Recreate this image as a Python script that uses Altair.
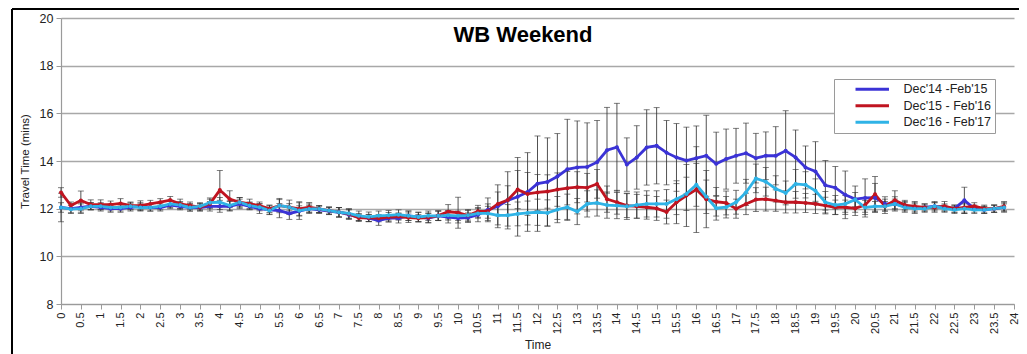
import altair as alt
import pandas as pd

# ---------------- data ----------------
times = [i * 0.25 for i in range(96)]  # 15-minute time slots, 0 .. 23.75 h

series_names = ["Dec'14 -Feb'15", "Dec'15 - Feb'16", "Dec'16 - Feb'17"]
series_colors = ["#3b33d6", "#c01420", "#2fb3e6"]

blue = [12.05, 12.0, 12.05, 12.1, 12.05, 12.0, 12.0, 12.05, 12.1, 12.05, 12.05, 12.15,
        12.1, 12.05, 12.05, 12.1, 12.1, 12.1, 12.2, 12.1, 12.0, 11.95, 11.92, 11.8,
        11.9, 12.0, 11.95, 11.9, 11.85, 11.75, 11.65, 11.6, 11.5, 11.6, 11.6, 11.7,
        11.65, 11.6, 11.7, 11.65, 11.6, 11.62, 11.75, 11.95, 12.1, 12.35, 12.5, 12.7,
        13.05, 13.12, 13.35, 13.65, 13.73, 13.75, 13.95, 14.45, 14.58, 13.85, 14.15, 14.57,
        14.64, 14.35, 14.15, 14.02, 14.12, 14.22, 13.88, 14.08, 14.22, 14.33, 14.12, 14.22,
        14.22, 14.43, 14.15, 13.73, 13.56, 12.98, 12.88, 12.58, 12.4, 12.45, 12.46, 12.2,
        12.2, 12.1, 12.05, 12.05, 12.1, 12.05, 12.0, 12.35, 12.0, 11.95, 12.0, 12.05]

red = [12.68, 12.13, 12.34, 12.17, 12.17, 12.17, 12.22, 12.13, 12.13, 12.2, 12.27, 12.36,
       12.2, 12.13, 12.06, 12.2, 12.78, 12.4, 12.27, 12.2, 12.13, 11.99, 12.13, 12.06,
       11.99, 12.06, 11.99, 11.92, 11.85, 11.78, 11.61, 11.61, 11.6, 11.64, 11.67, 11.62,
       11.6, 11.62, 11.71, 11.87, 11.83, 11.71, 11.89, 11.9, 12.2, 12.36, 12.8, 12.62,
       12.68, 12.72, 12.8, 12.86, 12.9, 12.88, 13.04, 12.4, 12.27, 12.13, 12.1, 12.06,
       12.01, 11.86, 12.27, 12.55, 12.8, 12.4, 12.29, 12.24, 12.0, 12.2, 12.38, 12.4,
       12.34, 12.27, 12.27, 12.24, 12.2, 12.13, 12.06, 12.06, 12.01, 12.15, 12.6, 12.1,
       12.35, 12.15, 12.1, 12.05, 12.05, 12.1, 12.0, 12.05, 12.1, 12.0, 12.0, 12.1]

cyan = [12.05, 11.98, 12.0, 12.1, 12.1, 12.05, 12.05, 12.1, 12.05, 12.05, 12.1, 12.2,
        12.15, 12.05, 12.1, 12.25, 12.27, 12.13, 12.27, 12.13, 12.06, 11.92, 12.13, 12.06,
        11.92, 11.99, 11.99, 11.92, 11.85, 11.8, 11.7, 11.66, 11.7, 11.72, 11.75, 11.7,
        11.65, 11.7, 11.7, 11.72, 11.7, 11.72, 11.8, 11.8, 11.72, 11.72, 11.78, 11.82,
        11.85, 11.82, 11.96, 12.06, 11.88, 12.2, 12.24, 12.15, 12.13, 12.1, 12.15, 12.2,
        12.2, 12.2, 12.4, 12.62, 13.0, 12.5, 12.02, 12.06, 12.27, 12.68, 13.27, 13.13,
        12.83, 12.66, 13.04, 13.0, 12.75, 12.27, 12.15, 12.2, 12.38, 12.05, 12.1, 12.1,
        12.2, 12.05, 12.0, 12.0, 12.1, 12.0, 11.95, 12.0, 11.95, 11.95, 12.0, 12.05]

blue_sd = [0.6, 0.2, 0.2, 0.15, 0.15, 0.15, 0.15, 0.15, 0.15, 0.15, 0.15, 0.15,
           0.15, 0.15, 0.15, 0.2, 0.25, 0.2, 0.2, 0.15, 0.2, 0.2, 0.3, 0.25,
           0.35, 0.2, 0.15, 0.15, 0.2, 0.2, 0.15, 0.15, 0.2, 0.15, 0.2, 0.2,
           0.2, 0.2, 0.2, 0.25, 0.2, 0.2, 0.3, 0.5, 0.9, 1.2, 1.65, 1.65,
           2.0, 1.85, 1.8, 2.1, 1.95, 1.85, 1.75, 1.8, 1.84, 1.12, 1.33, 1.58,
           1.6, 1.35, 1.42, 1.4, 1.35, 1.7, 1.33, 1.26, 1.15, 1.26, 1.04, 1.0,
           1.22, 1.68, 1.15, 0.9, 1.25, 1.04, 0.89, 1.0, 0.55, 0.8, 0.6, 0.3,
           0.3, 0.2, 0.2, 0.15, 0.15, 0.15, 0.15, 0.55, 0.15, 0.15, 0.15, 0.15]

red_sd = [0.2, 0.15, 0.4, 0.2, 0.2, 0.15, 0.2, 0.15, 0.2, 0.15, 0.15, 0.15,
          0.2, 0.15, 0.15, 0.2, 0.82, 0.35, 0.2, 0.2, 0.15, 0.15, 0.25, 0.3,
          0.3, 0.2, 0.15, 0.15, 0.2, 0.2, 0.15, 0.15, 0.15, 0.2, 0.15, 0.2,
          0.15, 0.2, 0.2, 0.3, 0.65, 0.25, 0.25, 0.3, 0.5, 0.6, 0.8, 0.9,
          0.75, 0.7, 0.7, 0.7, 0.65, 0.6, 0.6, 0.55, 0.5, 0.5, 0.5, 0.5,
          0.5, 0.5, 0.9, 1.3, 1.8, 1.2, 0.6, 0.5, 0.4, 0.45, 0.5, 0.5,
          0.45, 0.45, 0.45, 0.4, 0.4, 0.35, 0.3, 0.3, 0.3, 0.3, 0.75, 0.3,
          0.4, 0.2, 0.2, 0.15, 0.2, 0.2, 0.15, 0.2, 0.15, 0.15, 0.15, 0.2]

cyan_sd = [0.2, 0.15, 0.2, 0.15, 0.15, 0.15, 0.15, 0.15, 0.15, 0.15, 0.15, 0.15,
           0.15, 0.15, 0.15, 0.2, 0.2, 0.2, 0.2, 0.15, 0.15, 0.15, 0.3, 0.15,
           0.2, 0.15, 0.15, 0.15, 0.2, 0.2, 0.2, 0.2, 0.2, 0.2, 0.2, 0.2,
           0.2, 0.2, 0.2, 0.2, 0.2, 0.2, 0.2, 0.3, 0.4, 0.45, 0.5, 0.5,
           0.55, 0.55, 0.55, 0.55, 0.55, 0.55, 0.55, 0.55, 0.55, 0.55, 0.55, 0.55,
           0.55, 0.6, 0.65, 0.7, 0.9, 0.7, 0.5, 0.45, 0.5, 0.55, 0.6, 0.6,
           0.55, 0.5, 0.6, 0.55, 0.5, 0.45, 0.4, 0.35, 0.3, 0.3, 0.2, 0.2,
           0.2, 0.2, 0.2, 0.15, 0.2, 0.15, 0.15, 0.2, 0.15, 0.15, 0.15, 0.2]

x_tick_values = [0, 0.5, 1, 1.5, 2, 2.5, 3, 3.5, 4, 4.5, 5, 5.5, 6, 6.5, 7, 7.5, 8, 8.5,
                 9, 9.5, 10, 10.5, 11, 11.5, 12, 12.5, 13, 13.5, 14, 14.5, 15, 15.5,
                 16, 16.5, 17, 17.5, 18, 18.5, 19, 19.5, 20, 20.5, 21, 21.5, 22, 22.5,
                 23, 23.5, 24]
y_tick_values = [8, 10, 12, 14, 16, 18, 20]

title_text = "WB Weekend"
x_title = "Time"
y_title = "Travel Time (mins)"

# ---------------- table ----------------
rows = []
for name, vals, sds in zip(series_names, [blue, red, cyan], [blue_sd, red_sd, cyan_sd]):
    for t, v, s in zip(times, vals, sds):
        rows.append({"t": t, "series": name, "value": v,
                     "lo": round(v - s, 3), "hi": round(v + s, 3)})
df = pd.DataFrame(rows)

FONT = "Liberation Sans"

x_scale = alt.Scale(domain=[0, 24], nice=False, zero=False)
y_scale = alt.Scale(domain=[8, 20], nice=False, zero=False)

x_axis = alt.Axis(values=x_tick_values, format="~g", labelAngle=270, grid=False,
                  tickSize=5, labelPadding=3, labelFontSize=11, titleFontSize=12,
                  titleFontWeight="normal", titlePadding=6, labelOverlap=False,
                  labelFlush=False)
y_axis = alt.Axis(values=y_tick_values, grid=True, tickSize=5, labelPadding=3,
                  labelFontSize=12.5, titleFontSize=11.5, titlePadding=9,
                  titleFontWeight="normal", labelOverlap=False)

X = alt.X("t:Q", scale=x_scale, axis=x_axis, title=x_title)

base = alt.Chart(df)

err_rules = base.mark_rule(color="#333333", strokeWidth=0.85).encode(
    x=X,
    y=alt.Y("lo:Q", scale=y_scale, axis=y_axis, title=y_title),
    y2="hi:Q",
)

caps = base.transform_fold(["lo", "hi"], as_=["end", "cap"]).mark_tick(
    orient="horizontal", size=6, thickness=0.9, color="#333333"
).encode(
    x=X,
    y=alt.Y("cap:Q", scale=y_scale, axis=y_axis, title=y_title),
)

color_enc = alt.Color(
    "series:N",
    scale=alt.Scale(domain=series_names, range=series_colors),
    sort=series_names,
    legend=alt.Legend(
        orient="none", legendX=773, legendY=61, title=None,
        symbolType="M-4,0H4", symbolSize=70, symbolStrokeWidth=3,
        symbolOffset=28, labelOffset=25,
        labelFontSize=12.5, labelFont=FONT, labelColor="#222",
        fillColor="white", strokeColor="#9a9a9a", padding=4, rowPadding=3.5,
    ),
)

lines = base.mark_line(strokeWidth=2.8).encode(
    x=X,
    y=alt.Y("value:Q", scale=y_scale, axis=y_axis, title=y_title),
    color=color_enc,
)

points = base.mark_point(filled=True, size=16, opacity=1).encode(
    x=X,
    y=alt.Y("value:Q", scale=y_scale, axis=y_axis, title=y_title),
    color=alt.Color("series:N", scale=alt.Scale(domain=series_names, range=series_colors),
                    sort=series_names, legend=None),
)

title_mark = alt.Chart(pd.DataFrame({"label": [title_text]})).mark_text(
    font=FONT, fontSize=22, fontWeight="bold", color="black", baseline="middle", align="center"
).encode(text="label:N", x=alt.value(462), y=alt.value(17))

frame_df = pd.DataFrame({"k": [0]})
frame_left = alt.Chart(frame_df).mark_rule(color="black", strokeWidth=2).encode(
    x=alt.value(-49), y=alt.value(-9), y2=alt.value(340))
frame_top = alt.Chart(frame_df).mark_rule(color="black", strokeWidth=2).encode(
    x=alt.value(-49), x2=alt.value(960), y=alt.value(-9))

chart = alt.layer(err_rules, caps, lines, points, title_mark, frame_left, frame_top).properties(
    width=953, height=286,
    autosize=alt.AutoSizeParams(type="none"),
    padding={"left": 53, "top": 10, "right": 5, "bottom": 50},
).configure_view(stroke=None).configure_axis(
    labelFont=FONT, titleFont=FONT, labelColor="#222", titleColor="#222",
    domainColor="#9a9a9a", tickColor="#9a9a9a", gridColor="#a8a8a8", gridWidth=1.5,
    domainWidth=1.2,
)

chart.save("out.html", embed_options={"renderer": "svg", "actions": False})
